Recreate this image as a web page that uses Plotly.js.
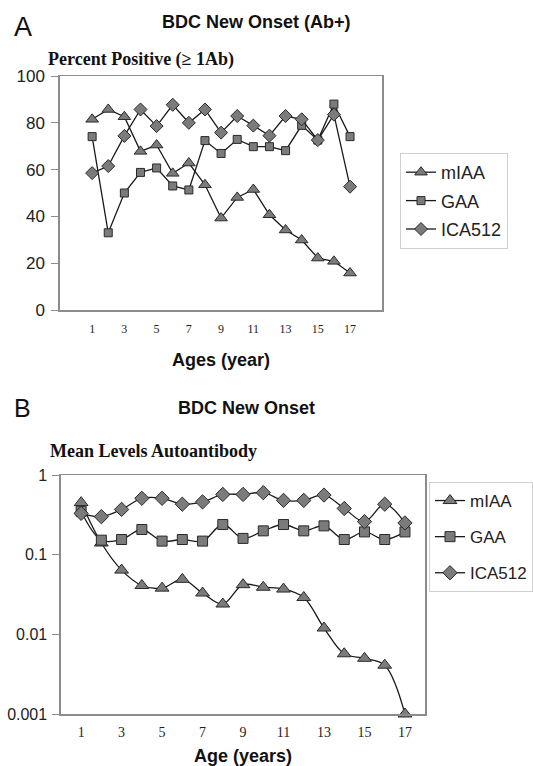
<!DOCTYPE html>
<html>
<head>
<meta charset="utf-8">
<script src="https://cdn.plot.ly/plotly-3.0.1.min.js"></script>
<style>html,body{margin:0;padding:0;background:#fff;}#chart{width:533px;height:766px;}</style>
</head>
<body>
<div id="chart"></div>
<script>
// ---- data ----
const ages = [1,2,3,4,5,6,7,8,9,10,11,12,13,14,15,16,17];
const seriesNames = ["mIAA", "GAA", "ICA512"];
// Panel A: percent positive
const pctMIAA = [81.5, 85.7, 82.6, 67.8, 70.5, 58.4, 62.8, 53.5, 39.3, 48.1, 51.5, 40.7, 34.2, 29.9, 22.2, 20.8, 15.8];
const pctGAA  = [74.1, 33.0, 50.0, 58.8, 60.7, 53.0, 51.3, 72.4, 66.9, 72.9, 69.8, 69.8, 68.1, 78.9, 72.6, 88.0, 74.1];
const pctICA  = [58.5, 61.5, 74.4, 85.7, 78.6, 87.7, 80.0, 85.7, 75.8, 82.9, 78.8, 74.5, 82.9, 81.5, 72.6, 83.5, 52.7];
// Panel B: mean levels
const lvlMIAA = [0.45, 0.14, 0.064, 0.041, 0.038, 0.049, 0.033, 0.024, 0.042, 0.039, 0.037, 0.029, 0.012, 0.0057, 0.005, 0.0041, 0.001];
const lvlGAA  = [0.35, 0.152, 0.155, 0.207, 0.148, 0.155, 0.148, 0.239, 0.16, 0.199, 0.239, 0.199, 0.23, 0.155, 0.193, 0.155, 0.193];
const lvlICA  = [0.33, 0.30, 0.37, 0.51, 0.51, 0.43, 0.46, 0.57, 0.57, 0.60, 0.48, 0.48, 0.56, 0.38, 0.26, 0.43, 0.25];
const tickAges = [1,3,5,7,9,11,13,15,17];
const tickLabelsA = ["1","3","5","7","9","11","13","15","17"];
const yTicksA = [0,20,40,60,80,100];
const yTicksB = [0.001,0.01,0.1,1];
const yTickTextB = ["0.001","0.01","0.1","1"];

// ---- styles ----
const FILL = "#7b7b7b", EDGE = "#2a2a2a", LINE = "#1a1a1a";
const symbols = ["triangle-up", "square", "diamond"];
const sizesA = [11, 8, 10];
const sizesB = [12, 10, 11];
const SANS = "Liberation Sans, Arial, sans-serif";
const SERIF = "Liberation Serif, Times New Roman, serif";

function mk(x, y, i, xa, ya, legendId, sizes, shape) {
  return {
    x: x, y: y, name: seriesNames[i], type: "scatter", mode: "lines+markers",
    xaxis: xa, yaxis: ya, legend: legendId, legendgroup: legendId + i,
    cliponaxis: false,
    line: {color: LINE, width: 1.3, shape: shape, smoothing: 1},
    marker: {symbol: symbols[i], size: sizes[i], color: FILL, line: {color: EDGE, width: 1}}
  };
}

const data = [
  mk(ages, pctMIAA, 0, "x", "y", "legend", sizesA, "linear"),
  mk(ages, pctGAA, 1, "x", "y", "legend", sizesA, "linear"),
  mk(ages, pctICA, 2, "x", "y", "legend", sizesA, "linear"),
  mk(ages, lvlMIAA, 0, "x2", "y2", "legend2", sizesB, "spline"),
  mk(ages, lvlGAA, 1, "x2", "y2", "legend2", sizesB, "spline"),
  mk(ages, lvlICA, 2, "x2", "y2", "legend2", sizesB, "spline")
];

const W = 533, H = 766;
const px = v => v / W;
const py = v => 1 - v / H;

const frame = {showline: true, mirror: true, linecolor: "#8c8c8c", linewidth: 1.5, showgrid: false, zeroline: false, fixedrange: true};

const layout = {
  width: W, height: H,
  margin: {l: 0, r: 0, t: 0, b: 0},
  paper_bgcolor: "#fff", plot_bgcolor: "#fff",
  showlegend: true,
  xaxis: Object.assign({}, frame, {
    domain: [px(60), px(383)], range: [-1, 19], anchor: "y",
    tickvals: tickAges, ticktext: tickLabelsA, ticks: "", ticklabelstandoff: 7,
    tickfont: {family: SERIF, size: 12, color: "#222"},
    title: {text: "Ages (year)", font: {family: SANS, size: 18, color: "#111", weight: "bold"}, standoff: 18}
  }),
  yaxis: Object.assign({}, frame, {
    domain: [py(310), py(76)], range: [0, 100], anchor: "x",
    tickvals: yTicksA, ticks: "outside", ticklen: 7, tickcolor: "#8c8c8c", ticklabelstandoff: 3,
    tickfont: {family: SANS, size: 17, color: "#222"}
  }),
  xaxis2: Object.assign({}, frame, {
    domain: [px(61), px(426)], range: [0, 18], anchor: "y2",
    tickvals: tickAges, ticktext: tickLabelsA, ticks: "", ticklabelstandoff: 5,
    tickfont: {family: SERIF, size: 14, color: "#222"},
    title: {text: "Age (years)", font: {family: SANS, size: 18, color: "#111", weight: "bold"}, standoff: 10}
  }),
  yaxis2: Object.assign({}, frame, {
    domain: [py(714), py(475)], type: "log", range: [-3, 0], anchor: "x2",
    tickvals: yTicksB, ticktext: yTickTextB, ticks: "outside", ticklen: 7, tickcolor: "#8c8c8c", ticklabelstandoff: 2,
    tickfont: {family: SANS, size: 16, color: "#222"}
  }),
  legend: {
    x: px(400), y: py(153), xanchor: "left", yanchor: "top", xref: "paper", yref: "paper",
    bordercolor: "#d0d0d0", borderwidth: 1, bgcolor: "#fff",
    font: {family: SANS, size: 18, color: "#222"},
    traceorder: "grouped", tracegroupgap: 2, itemclick: false
  },
  legend2: {
    x: px(430), y: py(482), xanchor: "left", yanchor: "top", xref: "paper", yref: "paper",
    bordercolor: "#d0d0d0", borderwidth: 1, bgcolor: "#fff",
    font: {family: SANS, size: 17, color: "#222"},
    traceorder: "grouped", tracegroupgap: 11, itemclick: false
  },
  annotations: [
    {text: "A", x: px(12), y: py(27), xref: "paper", yref: "paper", xanchor: "left", yanchor: "middle", showarrow: false, font: {family: SANS, size: 27, color: "#111"}},
    {text: "<b>BDC New Onset (Ab+)</b>", x: px(257), y: py(22), xref: "paper", yref: "paper", xanchor: "center", yanchor: "middle", showarrow: false, font: {family: SANS, size: 18, color: "#111"}},
    {text: "<b>Percent Positive (≥ 1Ab)</b>", x: px(46), y: py(59), xref: "paper", yref: "paper", xanchor: "left", yanchor: "middle", showarrow: false, font: {family: SERIF, size: 18, color: "#111"}},
    {text: "B", x: px(12), y: py(408), xref: "paper", yref: "paper", xanchor: "left", yanchor: "middle", showarrow: false, font: {family: SANS, size: 25, color: "#111"}},
    {text: "<b>BDC New Onset</b>", x: px(247), y: py(408), xref: "paper", yref: "paper", xanchor: "center", yanchor: "middle", showarrow: false, font: {family: SANS, size: 18, color: "#111"}},
    {text: "<b>Mean Levels Autoantibody</b>", x: px(48), y: py(451), xref: "paper", yref: "paper", xanchor: "left", yanchor: "middle", showarrow: false, font: {family: SERIF, size: 18, color: "#111"}}
  ]
};

Plotly.newPlot("chart", data, layout, {staticPlot: true, displayModeBar: false});
</script>
</body>
</html>
